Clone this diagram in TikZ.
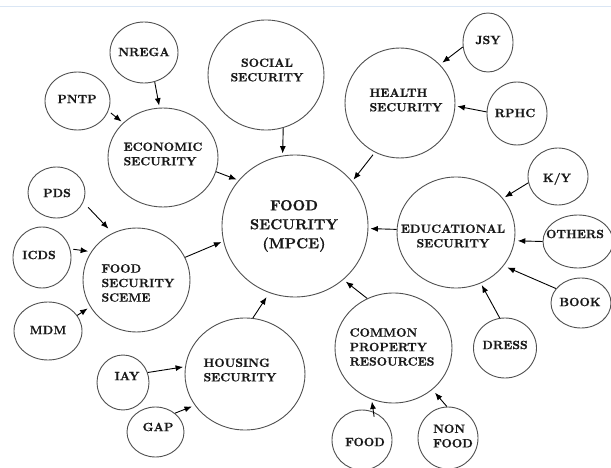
\documentclass[tikz,border=0pt]{standalone}
\usepackage{fontspec}
\newfontfamily\lblfont{lmroman10-bold.otf}[FakeBold=0.8]
\usetikzlibrary{shapes.geometric,arrows.meta}
\definecolor{ring}{RGB}{80,80,80}
\definecolor{ink}{RGB}{25,25,25}
\definecolor{topline}{RGB}{218,230,244}
\tikzset{
  bub/.style={ellipse, draw=ring, line width=0.9pt, inner sep=0pt},
  lbl/.style={text=ink, inner sep=0pt, align=center,
    font=\lblfont\fontsize{12}{14.5}\selectfont},
  lblleft/.style={lbl, align=left},
  biglbl/.style={lbl, font=\lblfont\fontsize{14.5}{19}\selectfont},
  link/.style={draw=black, line width=0.9pt,
    -{Latex[length=7.5pt,width=6pt]}, shorten >=2pt},
}
\begin{document}
\begin{tikzpicture}[x=1pt,y=-1pt]
\useasboundingbox (0,0) rectangle (611,468);
\fill[white] (0,0) rectangle (611,468);
\draw[topline, line width=1.2pt] (0,6.5) -- (611,6.5);

% bubbles
\node[bub, minimum width=68pt, minimum height=61pt] (nrega) at (144,52.5) {};
\node[bub, minimum width=65pt, minimum height=58pt] (pntp) at (77.5,101) {};
\node[bub, minimum width=110pt, minimum height=99pt] (econ) at (163,157.5) {};
\node[bub, minimum width=116pt, minimum height=110pt] (social) at (266,75) {};
\node[bub, minimum width=57pt, minimum height=51pt] (pds) at (56.5,192.5) {};
\node[bub, minimum width=107pt, minimum height=104pt] (fss) at (136.5,280) {};
\node[bub, minimum width=146pt, minimum height=142pt] (food) at (295,226) {};
\node[bub, minimum width=110pt, minimum height=110pt] (health) at (400,103) {};
\node[bub, minimum width=50pt, minimum height=59pt] (jsy) at (488,42.5) {};
\node[bub, minimum width=60pt, minimum height=63pt] (rphc) at (517,113.5) {};
\node[bub, minimum width=60pt, minimum height=57pt] (ky) at (558,176.5) {};
\node[bub, minimum width=118pt, minimum height=111pt] (edu) at (456,232.5) {};
\node[bub, minimum width=70pt, minimum height=53pt] (others) at (578,241.5) {};
\node[bub, minimum width=60pt, minimum height=50pt] (book) at (581,303) {};
\node[bub, minimum width=63pt, minimum height=60pt] (dress) at (505,348) {};
\node[bub, minimum width=117pt, minimum height=110pt] (cpr) at (393.5,348) {};
\node[bub, minimum width=60pt, minimum height=60pt] (foodb) at (362,440) {};
\node[bub, minimum width=60pt, minimum height=62pt] (nonfood) at (448,438) {};
\node[bub, minimum width=58pt, minimum height=61pt] (icds) at (42,257.5) {};
\node[bub, minimum width=68pt, minimum height=58pt] (mdm) at (48,331) {};
\node[bub, minimum width=120pt, minimum height=112pt] (housing) at (245,374) {};
\node[bub, minimum width=52pt, minimum height=55pt] (iay) at (123,382.5) {};
\node[bub, minimum width=57pt, minimum height=50pt] (gap) at (155.5,432) {};

% labels
\node[lbl] (nrega-t) at (144,52) {NREGA};
\node[lbl] (pntp-t) at (77,99) {PNTP};
\node[lblleft] (econ-t) at (163,154) {ECONOMIC\\SECURITY};
\node[lbl] (social-t) at (267,70) {SOCIAL\\SECURITY};
\node[lbl] (pds-t) at (57,193) {PDS};
\node[lblleft] (fss-t) at (138,283) {FOOD\\SECURITY\\SCEME};
\node[biglbl] (food-t) at (294,226) {FOOD\\SECURITY\\(MPCE)};
\node[lblleft] (health-t) at (406,100) {HEALTH\\SECURITY};
\node[lbl] (jsy-t) at (488,40) {JSY};
\node[lbl] (rphc-t) at (515,113) {RPHC};
\node[lbl] (ky-t) at (557,179) {K/Y};
\node[lbl] (edu-t) at (453,236) {EDUCATIONAL\\SECURITY};
\node[lbl] (others-t) at (575,234) {OTHERS};
\node[lbl] (book-t) at (580,302) {BOOK};
\node[lbl] (dress-t) at (505,345) {DRESS};
\node[lblleft] (cpr-t) at (392,347) {COMMON\\PROPERTY\\RESOURCES};
\node[lbl] (foodb-t) at (365,442) {FOOD};
\node[lblleft] (nonfood-t) at (453,436) {NON\\FOOD};
\node[lbl] (icds-t) at (39,255) {ICDS};
\node[lbl] (mdm-t) at (48,330) {MDM};
\node[lblleft] (housing-t) at (240,370) {HOUSING\\SECURITY};
\node[lbl] (iay-t) at (127,376) {IAY};
\node[lbl] (gap-t) at (158,427) {GAP};

% arrows
\draw[link] (nrega.-70) -- (econ.94);
\draw[link, shorten <=3pt] (pntp.-18) -- (econ.139);
\draw[link] (econ.-15) -- (food.141);
\draw[link] (social.-72) -- (food.100);
\draw[link, shorten <=7pt, shorten >=6pt] (pds.-20) -- (fss.117);
\draw[link, shorten <=3pt] (health.-117) -- (food.38);
\draw[link, shorten >=3pt] (jsy.190) -- (health.44);
\draw[link] (rphc.177) -- (health.-3);
\draw[link] (ky.192) -- (edu.36);
\draw[link] (edu.177) -- (food.-2);
\draw[link, shorten >=3pt] (others.180) -- (edu.-8);
\draw[link, shorten >=4pt] (book.150) -- (edu.-35);
\draw[link] (dress.100) -- (edu.-64);
\draw[link, shorten >=3pt] (cpr.118) -- (food.-48);
\draw[link, shorten <=-5pt] (foodb.68) -- (cpr.-113);
\draw[link, shorten >=4pt] (nonfood.92) -- (cpr.-47);
\draw[link, shorten <=3pt, shorten >=3pt] (icds.17) -- (fss.148);
\draw[link, shorten >=3pt] (mdm.28) -- (fss.210);
\draw[link] (fss.25) -- (food.192);
\draw[link, shorten >=5pt] (housing.82) -- (food.-111);
\draw[link] (iay.22) -- (housing.173);
\draw[link, shorten >=3pt] (gap.44) -- (housing.212);
\end{tikzpicture}
\end{document}
